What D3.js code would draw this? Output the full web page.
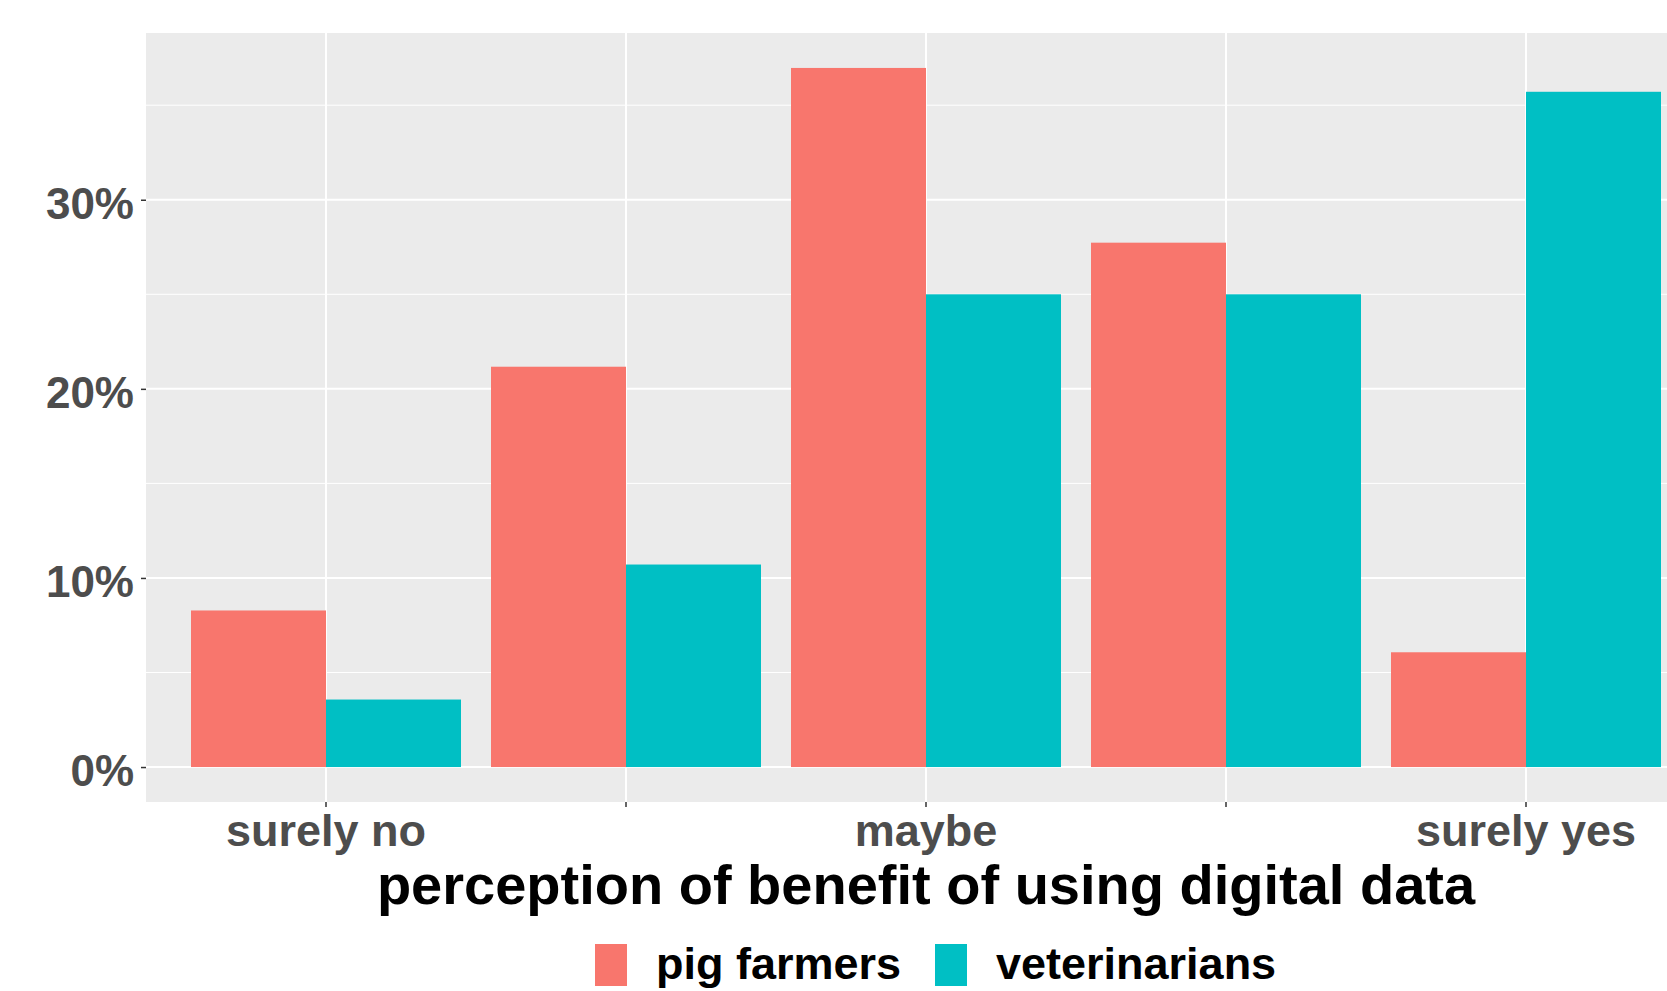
<!DOCTYPE html>
<html>
<head>
<meta charset="utf-8">
<script src="https://cdn.jsdelivr.net/npm/d3@7"></script>
<style>
    body { margin: 0; background: #ffffff; }
    text { font-family: "Liberation Sans", Arial, sans-serif; font-weight: bold; }
</style>
</head>
<body>
<div class="chart-cont"></div>
<script>
var categories = [1, 2, 3, 4, 5];
var tickLabels = ["surely no", "", "maybe", "", "surely yes"];
var series = ["pig farmers", "veterinarians"];
var pigFarmers = [8.28, 21.17, 36.97, 27.73, 6.07];
var veterinarians = [3.57, 10.71, 25.0, 25.0, 35.71];
var colors = ["#F8766D", "#00BFC4"];
var yTicks = [0, 10, 20, 30];
var yMinor = [5, 15, 25, 35];

var w = 1667, h = 991;
var panel = {left: 146, right: 1706, top: 33, bottom: 802};

var data = [];
categories.forEach(function(c, i) {
    data.push({cat: c, series: series[0], value: pigFarmers[i]});
    data.push({cat: c, series: series[1], value: veterinarians[i]});
});

var maxVal = d3.max(data, function(d) { return d.value; });
var pad = maxVal * 0.05;

var x = d3.scaleBand()
    .domain(categories)
    .range([panel.left, panel.right])
    .paddingInner(0.1)
    .paddingOuter(0.15);

var xSub = d3.scaleBand()
    .domain(series)
    .range([0, x.bandwidth()]);

var y = d3.scaleLinear()
    .domain([-pad, maxVal + pad])
    .range([panel.bottom, panel.top]);

var color = d3.scaleOrdinal().domain(series).range(colors);

var svg = d3.select(".chart-cont").append("svg")
    .attr("width", w)
    .attr("height", h);

svg.append("rect")
    .attr("x", panel.left)
    .attr("y", panel.top)
    .attr("width", panel.right - panel.left)
    .attr("height", panel.bottom - panel.top)
    .attr("fill", "#EBEBEB");

svg.append("g").selectAll("line")
    .data(yMinor)
    .enter().append("line")
    .attr("x1", panel.left).attr("x2", panel.right)
    .attr("y1", function(d) { return y(d); })
    .attr("y2", function(d) { return y(d); })
    .style("stroke", "#fff")
    .style("stroke-width", "1px");

svg.append("g").selectAll("line")
    .data(yTicks)
    .enter().append("line")
    .attr("x1", panel.left).attr("x2", panel.right)
    .attr("y1", function(d) { return y(d); })
    .attr("y2", function(d) { return y(d); })
    .style("stroke", "#fff")
    .style("stroke-width", "2px");

svg.append("g").selectAll("line")
    .data(categories)
    .enter().append("line")
    .attr("x1", function(d) { return x(d) + x.bandwidth() / 2; })
    .attr("x2", function(d) { return x(d) + x.bandwidth() / 2; })
    .attr("y1", panel.top).attr("y2", panel.bottom)
    .style("stroke", "#fff")
    .style("stroke-width", "2px");

svg.append("g").selectAll("rect")
    .data(data)
    .enter().append("rect")
    .attr("x", function(d) { return x(d.cat) + xSub(d.series); })
    .attr("width", xSub.bandwidth())
    .attr("y", function(d) { return y(d.value); })
    .attr("height", function(d) { return y(0) - y(d.value); })
    .attr("fill", function(d) { return color(d.series); });

// axes
var yAxis = svg.append("g")
    .attr("transform", "translate(" + panel.left + ",0)")
    .call(d3.axisLeft(y).tickValues(yTicks).tickSize(5).tickPadding(7)
        .tickFormat(function(d) { return d + "%"; }));
yAxis.select(".domain").remove();
yAxis.selectAll(".tick line").style("stroke", "#333").style("stroke-width", "1.5px");
yAxis.selectAll(".tick text")
    .attr("dy", "0.42em")
    .style("font-size", "44px")
    .style("fill", "#4D4D4D");

var xAxis = svg.append("g")
    .attr("transform", "translate(0," + panel.bottom + ")")
    .call(d3.axisBottom(x).tickSize(5).tickPadding(6)
        .tickFormat(function(d, i) { return tickLabels[i]; }));
xAxis.select(".domain").remove();
xAxis.selectAll(".tick line").style("stroke", "#333").style("stroke-width", "1.5px");
xAxis.selectAll(".tick text")
    .attr("dy", "0.74em")
    .style("font-size", "45px")
    .style("fill", "#4D4D4D");

svg.append("text")
    .attr("x", (panel.left + panel.right) / 2)
    .attr("y", 904)
    .attr("text-anchor", "middle")
    .style("font-size", "56px")
    .style("fill", "#000")
    .text("perception of benefit of using digital data");

// legend
var legendX = [595, 935];
var legend = svg.append("g").selectAll("g")
    .data(series)
    .enter().append("g")
    .attr("transform", function(d, i) { return "translate(" + legendX[i] + ",944)"; });
legend.append("rect")
    .attr("width", 32)
    .attr("height", 42)
    .attr("fill", function(d) { return color(d); });
legend.append("text")
    .attr("x", 61)
    .attr("y", 35)
    .style("font-size", "45px")
    .style("fill", "#000")
    .text(function(d) { return d; });
</script>
</body>
</html>
